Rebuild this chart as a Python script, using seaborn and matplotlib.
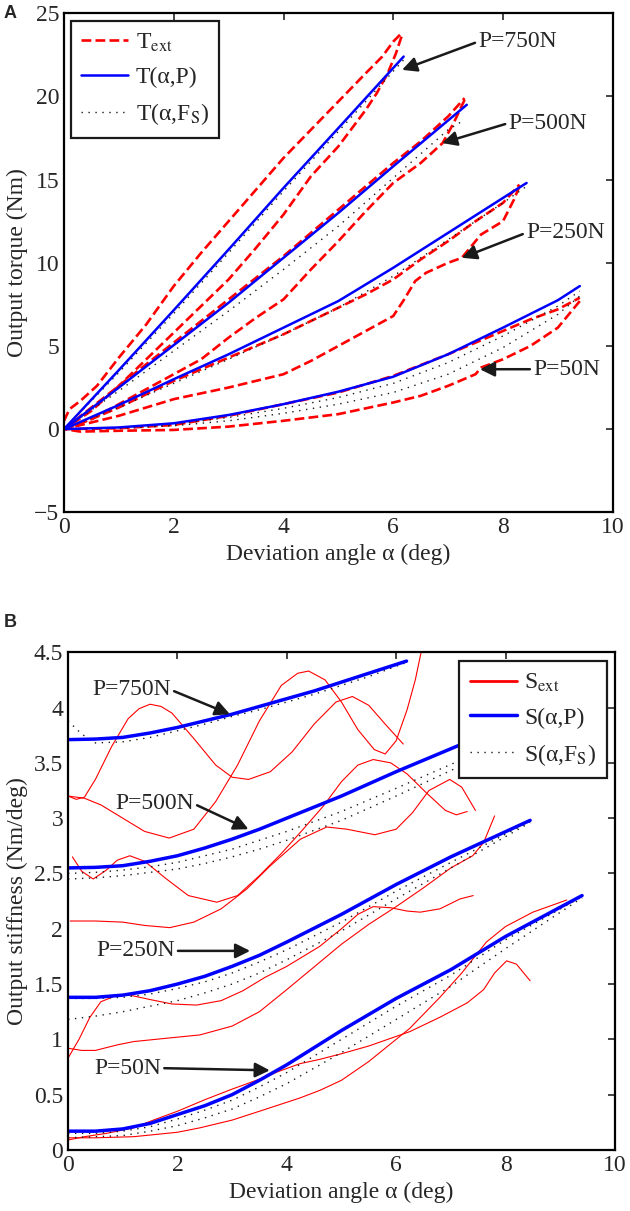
import matplotlib
matplotlib.use("Agg")
import matplotlib.pyplot as plt
import seaborn as sns
from matplotlib.lines import Line2D

# ---------------- panel A : output torque (Nm) ----------------
# model T(alpha, P) and T(alpha, F_S)
a750 = [0, 1, 2, 3, 4, 5, 6.19]
T750_P = [0, 3.55, 7.15, 10.8, 14.5, 18.1, 22.4]
T750_F = [0, 3.4, 6.95, 10.6, 14.3, 17.9, 22.2]
a500 = [0, 1, 2, 3, 4, 5, 6, 7.34]
T500_P = [0, 2.5, 5.05, 7.6, 10.3, 13.0, 15.8, 19.5]
a500_F = [0, 1, 2, 3, 4, 5, 6, 7, 7.3]
T500_F = [0, 2.3, 4.7, 7.1, 9.6, 12.2, 15.1, 18.0, 18.6]
a250 = [0, 1, 2, 3, 4, 5, 6, 7, 8, 8.43]
T250_P = [0, 1.45, 3.0, 4.5, 6.1, 7.7, 9.7, 11.8, 13.9, 14.8]
T250_F = [0, 1.3, 2.75, 4.2, 5.7, 7.3, 9.2, 11.4, 13.6, 14.6]
a50 = [0, 1, 2, 3, 4, 5, 6, 7, 8, 9, 9.4]
T50_P = [0, 0.1, 0.35, 0.85, 1.5, 2.25, 3.15, 4.5, 6.1, 7.75, 8.6]
T50_F1 = [0, 0.08, 0.28, 0.7, 1.25, 1.9, 2.75, 4.0, 5.6, 7.4, 8.3]
T50_F2 = [0, 0.05, 0.2, 0.5, 0.95, 1.5, 2.2, 3.3, 4.9, 6.9, 8.0]

# measured T_ext, loading / unloading branches
e750_up_a = [0, 0.1, 0.3, 0.6, 1.0, 1.5, 2.0, 2.5, 3.0, 3.5, 4.0, 4.5, 5.0, 5.5, 5.8, 6.0, 6.15]
e750_up_T = [0.5, 1.2, 1.7, 2.6, 4.3, 6.3, 8.6, 10.6, 12.5, 14.4, 16.3, 18.0, 19.7, 21.4, 22.4, 23.3, 23.8]
e750_dn_a = [6.15, 6.05, 5.9, 5.7, 5.5, 5.0, 4.5, 4.0, 3.5, 3.0, 2.5, 2.0, 1.5, 1.0, 0.5, 0]
e750_dn_T = [23.6, 22.6, 21.4, 20.2, 19.2, 17.0, 15.2, 12.9, 10.9, 9.0, 7.4, 5.8, 4.2, 2.6, 1.1, 0]
e500_up_a = [0, 0.5, 1, 1.5, 2, 2.5, 3, 3.5, 4, 4.5, 5, 5.5, 6, 6.5, 7.0, 7.3]
e500_up_T = [0, 1.3, 2.6, 3.9, 5.2, 6.5, 7.8, 9.1, 10.4, 11.8, 13.2, 14.6, 16.0, 17.3, 18.8, 19.9]
e500_dn_a = [7.3, 7.1, 6.9, 6.5, 6.0, 5.5, 5.0, 4.5, 4.0, 3.5, 3.0, 2.5, 2.0, 1.5, 1.0, 0.5, 0]
e500_dn_T = [19.8, 18.4, 17.2, 16.0, 14.8, 13.1, 11.3, 9.6, 7.8, 6.7, 5.5, 4.2, 3.3, 2.4, 1.5, 0.6, 0]
e250_up_a = [0, 0.5, 1, 2, 3, 4, 5, 5.5, 6, 6.5, 7, 7.5, 8, 8.3]
e250_up_T = [0, 0.6, 1.3, 2.9, 4.3, 5.7, 7.3, 8.1, 9.0, 10.2, 11.3, 12.5, 13.6, 14.7]
e250_dn_a = [8.3, 8.2, 8.0, 7.6, 7.25, 7.0, 6.6, 6.4, 6.2, 6.0, 5.5, 5.0, 4.5, 4.0, 3.0, 2.0, 1.0, 0]
e250_dn_T = [14.6, 13.8, 12.5, 11.7, 10.3, 10.0, 9.4, 8.9, 7.8, 6.8, 5.9, 5.0, 4.1, 3.3, 2.5, 1.8, 0.8, 0]
e50_up_a = [0, 1, 2, 3, 4, 5, 6, 7, 8, 8.5, 9, 9.4]
e50_up_T = [0, 0.05, 0.25, 0.8, 1.5, 2.2, 3.2, 4.5, 5.9, 6.6, 7.2, 7.9]
e50_dn_a = [9.4, 9.2, 9.0, 8.5, 8.0, 7.6, 7.5, 7.0, 6.5, 6.0, 5.0, 4.0, 3.0, 2.0, 1.0, 0.3, 0]
e50_dn_T = [7.7, 6.9, 6.1, 5.0, 4.2, 3.7, 3.3, 2.6, 2.0, 1.6, 0.9, 0.5, 0.15, -0.05, -0.1, -0.15, 0]

# ---------------- panel B : output stiffness (Nm/deg) ----------------
b750 = [0, 0.5, 1, 1.5, 2, 2.5, 3, 3.5, 4, 4.5, 5, 5.5, 6.19]
S750_P = [3.71, 3.715, 3.73, 3.77, 3.82, 3.88, 3.94, 4.01, 4.08, 4.15, 4.23, 4.31, 4.42]
b750_F = [0, 0.25, 0.5, 1, 1.5, 2, 2.5, 3, 3.5, 4, 4.5, 5, 5.5, 6.2]
S750_F = [3.88, 3.76, 3.68, 3.69, 3.73, 3.79, 3.85, 3.92, 3.98, 4.05, 4.12, 4.20, 4.28, 4.41]
b500 = [0, 0.5, 1, 1.5, 2, 2.5, 3, 3.5, 4, 5, 6, 7.35]
S500_P = [2.55, 2.555, 2.57, 2.61, 2.66, 2.73, 2.81, 2.90, 3.0, 3.2, 3.42, 3.70]
b500_F = [0, 0.5, 1, 1.5, 2, 2.5, 3, 3.5, 4, 5, 6, 7.3]
S500_F1 = [2.50, 2.51, 2.53, 2.56, 2.60, 2.66, 2.72, 2.80, 2.88, 3.06, 3.27, 3.55]
S500_F2 = [2.45, 2.46, 2.48, 2.51, 2.54, 2.59, 2.65, 2.72, 2.80, 2.98, 3.20, 3.50]
b250 = [0, 0.5, 1, 1.5, 2, 2.5, 3, 3.5, 4, 5, 6, 7, 8.45]
S250_P = [1.38, 1.38, 1.40, 1.44, 1.50, 1.57, 1.66, 1.76, 1.88, 2.13, 2.40, 2.65, 2.98]
S250_F1 = [1.37, 1.37, 1.38, 1.41, 1.46, 1.52, 1.60, 1.70, 1.81, 2.06, 2.34, 2.60, 2.97]
S250_F2 = [1.18, 1.21, 1.25, 1.30, 1.35, 1.42, 1.50, 1.60, 1.72, 1.98, 2.27, 2.55, 2.96]
b50 = [0, 0.5, 1, 1.5, 2, 2.5, 3, 3.5, 4, 5, 6, 7, 8, 9.4]
S50_P = [0.17, 0.17, 0.19, 0.24, 0.32, 0.40, 0.50, 0.63, 0.77, 1.08, 1.37, 1.63, 1.93, 2.30]
S50_F1 = [0.15, 0.15, 0.17, 0.21, 0.28, 0.36, 0.45, 0.57, 0.70, 1.00, 1.30, 1.58, 1.90, 2.29]
S50_F2 = [0.11, 0.12, 0.13, 0.17, 0.22, 0.29, 0.37, 0.48, 0.60, 0.88, 1.18, 1.48, 1.82, 2.28]

# measured S_ext
s1_a = [0, 0.15, 0.3, 0.5, 0.8, 1.1, 1.3, 1.5, 1.7, 1.9, 2.3, 2.7, 3.0, 3.3, 3.7, 4.1, 4.5, 4.9, 5.2, 5.5, 5.8, 6.13]
s1_S = [3.20, 3.17, 3.19, 3.35, 3.65, 3.90, 3.99, 4.03, 4.01, 3.95, 3.72, 3.48, 3.37, 3.35, 3.42, 3.60, 3.85, 4.05, 4.10, 4.02, 3.85, 3.67]
s2_a = [0, 0.3, 0.6, 1.0, 1.4, 1.85, 2.3, 2.7, 3.1, 3.5, 3.9, 4.2, 4.4, 4.7, 5.0, 5.3, 5.6, 5.8, 6.0, 6.2, 6.35, 6.5]
s2_S = [3.20, 3.18, 3.12, 3.00, 2.88, 2.82, 2.90, 3.15, 3.48, 3.88, 4.20, 4.31, 4.33, 4.25, 4.05, 3.80, 3.62, 3.58, 3.70, 3.98, 4.25, 4.6]
s3_a = [0.08, 0.25, 0.46, 0.7, 0.9, 1.13, 1.4, 1.8, 2.2, 2.72, 3.1, 3.5, 3.9, 4.3, 4.67, 5.0, 5.3, 5.58, 5.9, 6.2, 6.55, 6.9, 7.1, 7.3]
s3_S = [2.65, 2.52, 2.45, 2.53, 2.62, 2.66, 2.61, 2.45, 2.30, 2.24, 2.30, 2.48, 2.68, 2.90, 3.11, 3.33, 3.48, 3.53, 3.50, 3.40, 3.23, 3.07, 3.03, 3.06]
s4_a = [0.04, 0.5, 1.0, 1.4, 1.86, 2.3, 2.8, 3.27, 3.7, 4.25, 4.73, 5.1, 5.61, 6.0, 6.3, 6.6, 6.98, 7.2, 7.45]
s4_S = [2.07, 2.07, 2.06, 2.03, 2.01, 2.06, 2.18, 2.36, 2.57, 2.81, 2.92, 2.90, 2.85, 2.90, 3.05, 3.25, 3.35, 3.28, 3.07]
s5_a = [0, 0.2, 0.4, 0.6, 0.85, 1.13, 1.5, 1.9, 2.35, 2.8, 3.2, 3.6, 4.0, 4.6, 5.0, 5.3, 5.58, 5.9, 6.2, 6.44, 6.8, 7.17, 7.41]
s5_S = [0.83, 1.00, 1.20, 1.34, 1.39, 1.40, 1.36, 1.32, 1.31, 1.35, 1.44, 1.56, 1.66, 1.84, 2.00, 2.13, 2.20, 2.19, 2.16, 2.15, 2.18, 2.27, 2.30]
s6_a = [0, 0.25, 0.5, 0.9, 1.2, 1.8, 2.41, 3.0, 3.5, 4.0, 4.61, 5.0, 5.5, 6.0, 6.5, 7.0, 7.4, 7.6, 7.8]
s6_S = [0.92, 0.90, 0.90, 0.95, 0.98, 1.01, 1.04, 1.12, 1.25, 1.45, 1.70, 1.86, 2.04, 2.20, 2.37, 2.55, 2.66, 2.78, 3.02]
s7_a = [0, 0.5, 1.2, 2.0, 2.41, 3.0, 3.5, 4.24, 4.61, 5.0, 5.5, 6.25, 6.8, 7.2, 7.65, 8.0, 8.5, 9.12]
s7_S = [0.11, 0.11, 0.12, 0.16, 0.20, 0.27, 0.35, 0.47, 0.54, 0.63, 0.80, 1.10, 1.38, 1.60, 1.88, 2.02, 2.15, 2.26]
s8_a = [0, 0.3, 0.7, 1.2, 1.56, 2.0, 2.53, 3.0, 3.5, 3.85, 4.24, 4.61, 5.0, 5.5, 6.25, 6.8, 7.3, 7.6, 7.8, 8.02, 8.2, 8.45]
s8_S = [0.09, 0.12, 0.15, 0.20, 0.27, 0.35, 0.46, 0.55, 0.64, 0.71, 0.78, 0.82, 0.87, 0.94, 1.07, 1.20, 1.33, 1.45, 1.60, 1.71, 1.68, 1.53]

sns.set_theme(style="white")
plt.rcParams["font.family"] = ["Liberation Serif", "DejaVu Serif"]
plt.rcParams["mathtext.fontset"] = "stix"
plt.rcParams["xtick.direction"] = "in"
plt.rcParams["ytick.direction"] = "in"
plt.rcParams["xtick.top"] = True
plt.rcParams["ytick.right"] = True
plt.rcParams["axes.linewidth"] = 1.6
plt.rcParams["axes.edgecolor"] = "black"

RED = "#ff0000"
BLUE = "#0000ff"
DOT = (0, (1, 4))
FS = 17


def draw(ax, x, y, **kw):
    sns.lineplot(x=x, y=y, ax=ax, sort=False, estimator=None, legend=False, **kw)


def arrow(ax, text, xytext, xy, side):
    ax.annotate(text, xy=xy, xytext=xytext, fontsize=FS, va="center",
                ha="left" if side == "left" else "right",
                arrowprops=dict(arrowstyle="-|>", color="k", lw=1.8, mutation_scale=22,
                                shrinkA=0, shrinkB=0, relpos=(0, 0.5) if side == "left" else (1, 0.5)))


def legend(ax, handles, labels, **kw):
    leg = ax.legend(handles, labels, borderaxespad=0, fontsize=FS, fancybox=False,
                    framealpha=1, edgecolor="k", handlelength=2.0, handletextpad=0.3,
                    labelspacing=0.55, borderpad=0.45, **kw)
    leg.get_frame().set_linewidth(1.6)


fig = plt.figure(figsize=(6.3, 12.11), dpi=100)
axA = fig.add_axes([0.1016, 0.577, 0.871, 0.412])
axB = fig.add_axes([0.108, 0.0504, 0.868, 0.411])

# panel A
for xa, ya in [(e750_up_a, e750_up_T), (e750_dn_a, e750_dn_T), (e500_up_a, e500_up_T),
               (e500_dn_a, e500_dn_T), (e250_up_a, e250_up_T), (e250_dn_a, e250_dn_T),
               (e50_up_a, e50_up_T), (e50_dn_a, e50_dn_T)]:
    draw(axA, xa, ya, color=RED, lw=1.9, linestyle="--")
for xa, ya in [(a750, T750_F), (a500_F, T500_F), (a250, T250_F), (a50, T50_F1), (a50, T50_F2)]:
    draw(axA, xa, ya, color="k", lw=1.0, linestyle=DOT)
for xa, ya in [(a750, T750_P), (a500, T500_P), (a250, T250_P), (a50, T50_P)]:
    draw(axA, xa, ya, color=BLUE, lw=1.8)

axA.set_xlim(0, 10)
axA.set_ylim(-5, 25)
axA.set_xticks([0, 2, 4, 6, 8, 10])
axA.set_yticks([-5, 0, 5, 10, 15, 20, 25])
axA.set_xlabel("Deviation angle α (deg)", fontsize=FS)
axA.set_ylabel("Output torque (Nm)", fontsize=FS)
axA.tick_params(labelsize=FS, length=5, width=1.2)

arrow(axA, "P=750N", (7.55, 23.3), (6.16, 21.6), "left")
arrow(axA, "P=500N", (8.1, 18.4), (6.89, 17.2), "left")
arrow(axA, "P=250N", (8.42, 11.8), (7.25, 10.3), "left")
arrow(axA, "P=50N", (8.55, 3.6), (7.58, 3.6), "left")

legend(axA, [Line2D([], [], color=RED, lw=1.9, linestyle="--"),
             Line2D([], [], color=BLUE, lw=1.8),
             Line2D([], [], color="k", lw=1.0, linestyle=DOT)],
       [r"T$_{\mathrm{ext}}$", "T(α,P)", r"T(α,F$_{\mathrm{S}}$)"],
       loc="upper left", bbox_to_anchor=(0.012, 0.985))

# panel B
for xa, ya in [(s1_a, s1_S), (s2_a, s2_S), (s3_a, s3_S), (s4_a, s4_S),
               (s5_a, s5_S), (s6_a, s6_S), (s7_a, s7_S), (s8_a, s8_S)]:
    draw(axB, xa, ya, color=RED, lw=0.8)
for xa, ya in [(b750_F, S750_F), (b500_F, S500_F1), (b500_F, S500_F2), (b250, S250_F1),
               (b250, S250_F2), (b50, S50_F1), (b50, S50_F2)]:
    draw(axB, xa, ya, color="k", lw=1.0, linestyle=DOT)
for xa, ya in [(b750, S750_P), (b500, S500_P), (b250, S250_P), (b50, S50_P)]:
    draw(axB, xa, ya, color=BLUE, lw=2.5)

axB.set_xlim(0, 10)
axB.set_ylim(0, 4.5)
axB.set_xticks([0, 2, 4, 6, 8, 10])
axB.set_yticks([0, 0.5, 1, 1.5, 2, 2.5, 3, 3.5, 4, 4.5])
axB.set_yticklabels(["0", "0.5", "1", "1.5", "2", "2.5", "3", "3.5", "4", "4.5"])
axB.set_xlabel("Deviation angle α (deg)", fontsize=FS)
axB.set_ylabel("Output stiffness (Nm/deg)", fontsize=FS)
axB.tick_params(labelsize=FS, length=5, width=1.2)

arrow(axB, "P=750N", (1.88, 4.16), (2.96, 3.94), "right")
arrow(axB, "P=500N", (2.3, 3.13), (3.30, 2.90), "right")
arrow(axB, "P=250N", (1.95, 1.80), (3.33, 1.80), "right")
arrow(axB, "P=50N", (1.7, 0.74), (3.69, 0.72), "right")

legend(axB, [Line2D([], [], color=RED, lw=2.0),
             Line2D([], [], color=BLUE, lw=2.5),
             Line2D([], [], color="k", lw=1.0, linestyle=DOT)],
       [r"S$_{\mathrm{ext}}$", "S(α,P)", r"S(α,F$_{\mathrm{S}}$)"],
       loc="upper right", bbox_to_anchor=(0.985, 0.982))

fig.text(0.006, 0.9885, "A", fontsize=13, fontweight="bold", family="Liberation Sans", va="center")
fig.text(0.006, 0.4856, "B", fontsize=13, fontweight="bold", family="Liberation Sans", va="center")

fig.savefig("out.png", dpi=100)
